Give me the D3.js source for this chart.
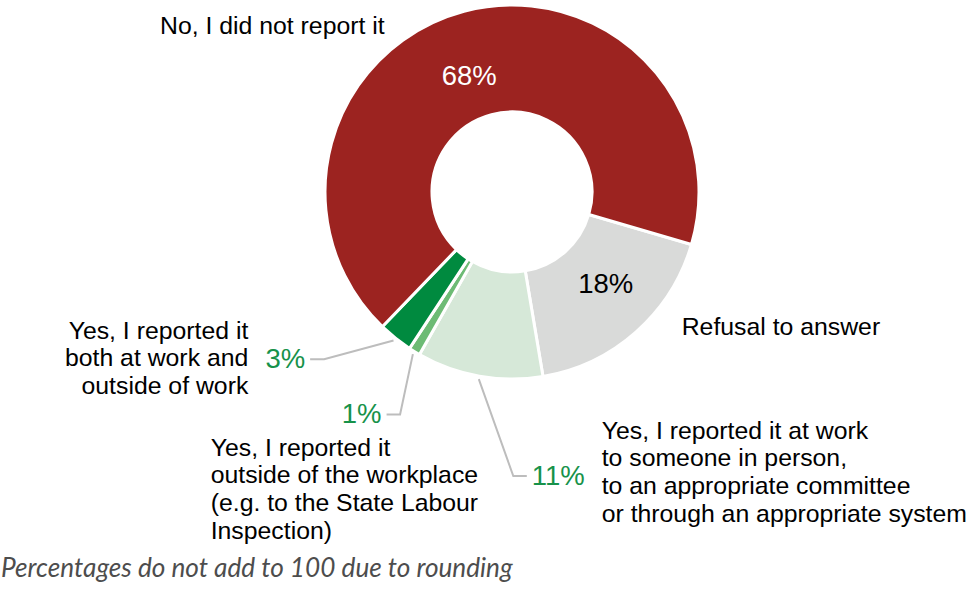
<!DOCTYPE html>
<html>
<head>
<meta charset="utf-8">
<script src="https://cdn.jsdelivr.net/npm/d3@7"></script>
<style>
  body { margin: 0; background: #fff; }
  text { font-family: "Liberation Sans", Arial, sans-serif; }
</style>
</head>
<body>
<div id="container"></div>
<script>
// answers, in the order they go round the ring (clockwise)
let categories = [
  "Refusal to answer",
  "Yes, I reported it at work to someone in person, to an appropriate committee or through an appropriate system",
  "Yes, I reported it outside of the workplace (e.g. to the State Labour Inspection)",
  "Yes, I reported it both at work and outside of work",
  "No, I did not report it"
];
let values = [18, 11, 1, 3, 68];
let valueLabels = ["18%", "11%", "1%", "3%", "68%"];
let labelLines = [
  ["Refusal to answer"],
  ["Yes, I reported it at work", "to someone in person,", "to an appropriate committee", "or through an appropriate system"],
  ["Yes, I reported it", "outside of the workplace", "(e.g. to the State Labour", "Inspection)"],
  ["Yes, I reported it", "both at work and", "outside of work"],
  ["No, I did not report it"]
];
let note = "Percentages do not add to 100 due to rounding";

let colors = ["#d9dad9", "#d6e8d8", "#6dbb75", "#008a3f", "#9c2320"];
let pctColors = ["#000", "#17924a", "#17924a", "#17924a", "#fff"];

// label placement (layout only)
// inside: offset from slice centroid; outside: leader elbow offset + horizontal run
let layout = [
  {inside: true, dx: 5, dy: 1.5, lx: 681.7, ly: 334.5, anchor: "start"},
  {inside: false, ex: 34.5, ey: 97, run: 13.5, lx: 601.7, ly: 438.5, anchor: "start"},
  {inside: false, ex: -12.8, ey: 60.3, run: -13.5, lx: 210.7, ly: 455.5, anchor: "start"},
  {inside: false, ex: -69.4, ey: 18.8, run: -14, lx: 248.3, ly: 338.5, anchor: "end"},
  {inside: true, dx: -8.5, dy: 22.4, lx: 160, ly: 33.5, anchor: "start"}
];

let w = 969;
let h = 599;
let cx = 512;
let cy = 192;
let outerR = 187;
let innerR = 80;
let lineH = 27.8;

let viz = d3.select("#container")
  .append("svg")
    .attr("width", w)
    .attr("height", h);

let startDeg = 106.3;
let pie = d3.pie()
  .sort(null)
  .value(function(d){ return d; })
  .startAngle(startDeg * Math.PI / 180)
  .endAngle((startDeg + 360) * Math.PI / 180);

let arcs = pie(values);

let arcMaker = d3.arc().innerRadius(innerR).outerRadius(outerR);
let edgeArc = d3.arc().innerRadius(190).outerRadius(190);

let ring = viz.append("g").attr("transform", "translate(" + cx + "," + cy + ")");

ring.selectAll(".slice").data(arcs).enter()
  .append("path")
    .attr("class", "slice")
    .attr("d", arcMaker)
    .attr("fill", function(d, i){ return colors[i]; })
    .attr("stroke", "#fff")
    .attr("stroke-width", 3)
    .attr("stroke-linejoin", "round");

// percentage labels
arcs.forEach(function(d, i){
  let lay = layout[i];
  if (lay.inside) {
    let c = arcMaker.centroid(d);
    ring.append("text")
      .attr("x", c[0] + lay.dx)
      .attr("y", c[1] + lay.dy)
      .attr("text-anchor", "middle")
      .attr("font-size", 27.5)
      .attr("fill", pctColors[i])
      .text(valueLabels[i]);
  } else {
    let s = edgeArc.centroid(d);
    let e = [s[0] + lay.ex, s[1] + lay.ey];
    let t = [e[0] + lay.run, e[1]];
    ring.append("path")
      .attr("d", d3.line()([s, e, t]))
      .attr("fill", "none")
      .attr("stroke", "#bdbdbd")
      .attr("stroke-width", 2);
    let goRight = lay.run > 0;
    ring.append("text")
      .attr("x", t[0] + (goRight ? 5 : -5))
      .attr("y", t[1] + 8.5)
      .attr("text-anchor", goRight ? "start" : "end")
      .attr("font-size", 27.5)
      .attr("fill", pctColors[i])
      .text(valueLabels[i]);
  }
});

// category labels
labelLines.forEach(function(lines, i){
  let lay = layout[i];
  let txt = viz.append("text")
    .attr("x", lay.lx)
    .attr("y", lay.ly)
    .attr("text-anchor", lay.anchor)
    .attr("font-size", 24.8)
    .attr("fill", "#000");
  lines.forEach(function(l, j){
    txt.append("tspan")
      .attr("x", lay.lx)
      .attr("y", lay.ly + j * lineH)
      .text(l);
  });
});

// footnote
let foot = viz.append("text")
  .attr("x", 1)
  .attr("y", 577)
  .attr("font-size", 22)
  .attr("font-style", "italic")
  .attr("fill", "#4d4d4d")
  .style("font-family", "Lato, 'Open Sans', sans-serif")
  .text(note);
let fw = foot.node().getComputedTextLength();
foot.attr("font-size", 22 * 512 / fw);
</script>
</body>
</html>
